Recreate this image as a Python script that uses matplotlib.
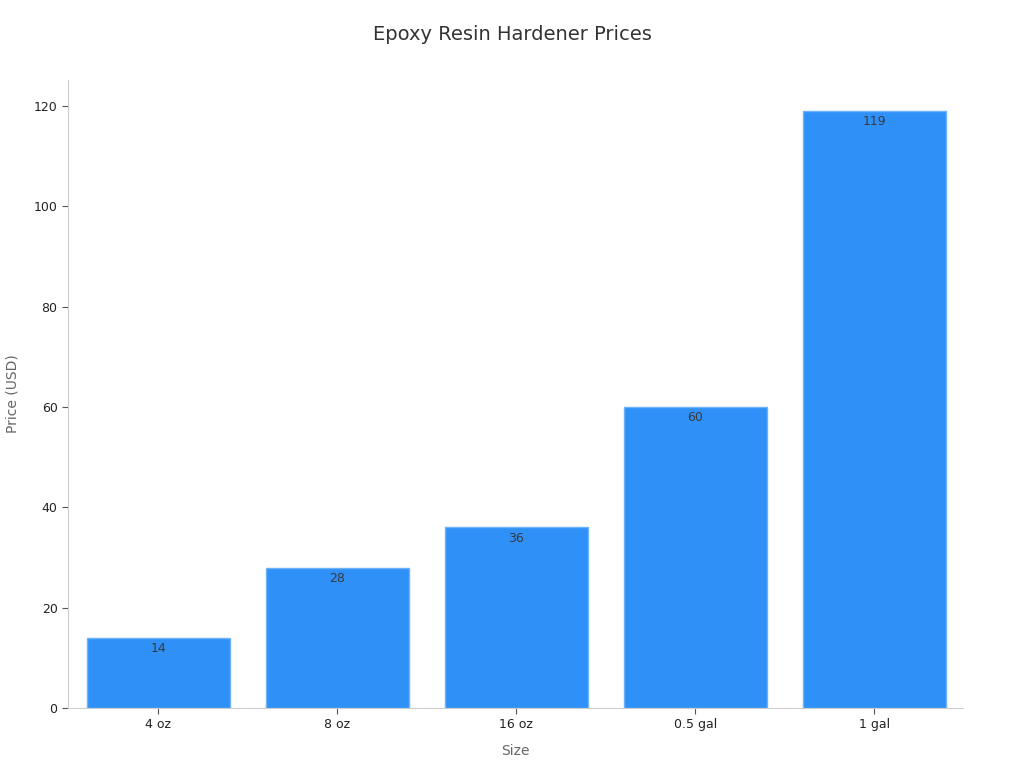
import matplotlib
matplotlib.use('Agg')
import matplotlib.pyplot as plt

# Price data
sizes = ['4 oz', '8 oz', '16 oz', '0.5 gal', '1 gal']
prices = [14, 28, 36, 60, 119]

fig = plt.figure(figsize=(10.24, 7.68), dpi=100)
ax = fig.add_axes([0.0664, 0.0781, 0.874, 0.8177])

x = range(len(sizes))
bars = ax.bar(x, prices, width=0.8, color='#2f91f8', edgecolor='#6cb3fb', linewidth=1)

for b, v in zip(bars, prices):
    ax.annotate(str(v), (b.get_x() + b.get_width() / 2, v), xytext=(0, -3),
                textcoords='offset points', ha='center', va='top',
                fontsize=9, color='#3a3a3a')

ax.set_xticks(list(x))
ax.set_xticklabels(sizes)
ax.set_xlim(-0.505, 4.495)
ax.set_ylim(0, 125.2)
ax.set_yticks([0, 20, 40, 60, 80, 100, 120])

ax.spines['top'].set_visible(False)
ax.spines['right'].set_visible(False)
for s in ['left', 'bottom']:
    ax.spines[s].set_color('#cccccc')
ax.tick_params(axis='both', colors='#555555', labelcolor='#222222', labelsize=9, length=4)

ax.set_xlabel('Size', fontsize=10, color='#666666', labelpad=9)
ax.set_ylabel('Price (USD)', fontsize=10, color='#666666', labelpad=10)
fig.suptitle('Epoxy Resin Hardener Prices', fontsize=14, color='#333333', y=0.968)

fig.savefig('out.png', dpi=100)
